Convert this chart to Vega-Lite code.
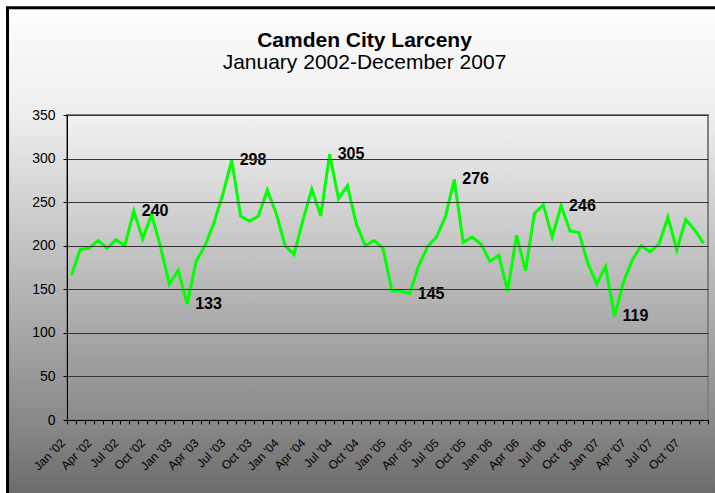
{
  "$schema": "https://vega.github.io/schema/vega-lite/v6.json",
  "width": 641,
  "height": 305,
  "autosize": {"type": "none"},
  "padding": {"left": 67, "top": 115, "right": 7, "bottom": 73},
  "background": "white",
  "title": {
    "text": "Camden City Larceny",
    "subtitle": "January 2002-December 2007",
    "font": "Liberation Sans",
    "subtitleFont": "Liberation Sans",
    "fontSize": 21,
    "fontWeight": "bold",
    "subtitleFontSize": 21,
    "subtitleFontWeight": "normal",
    "color": "black",
    "subtitleColor": "black",
    "anchor": "middle",
    "frame": "group",
    "dx": -23,
    "offset": -67,
    "subtitlePadding": 1
  },
  "config": {
    "view": {"stroke": null},
    "font": "Liberation Sans",
    "axisX": {
      "title": null,
      "grid": false,
      "labelAngle": -45,
      "labelAlign": "right",
      "labelBaseline": "top",
      "labelOffset": -8,
      "labelPadding": 13,
      "labelFontSize": 12,
      "labelFont": "Liberation Sans",
      "labelColor": "black",
      "labelOverlap": false,
      "labelFlush": false,
      "labelBound": false,
      "tickSize": 4,
      "tickColor": "black",
      "domainColor": "black",
      "domainWidth": 1
    },
    "axisY": {
      "title": null,
      "grid": true,
      "gridColor": "#333333",
      "gridWidth": 1,
      "tickSize": 4,
      "tickColor": "black",
      "domainColor": "black",
      "labelPadding": 8,
      "labelFontSize": 14,
      "labelFont": "Liberation Sans",
      "labelColor": "black"
    }
  },
  "data": {
    "values": [
      {"n": 0, "month": "Jan 2002", "larceny": 166},
      {"n": 1, "month": "Feb 2002", "larceny": 196},
      {"n": 2, "month": "Mar 2002", "larceny": 197},
      {"n": 3, "month": "Apr 2002", "larceny": 206},
      {"n": 4, "month": "May 2002", "larceny": 197},
      {"n": 5, "month": "Jun 2002", "larceny": 207},
      {"n": 6, "month": "Jul 2002", "larceny": 200},
      {"n": 7, "month": "Aug 2002", "larceny": 240},
      {"n": 8, "month": "Sep 2002", "larceny": 208},
      {"n": 9, "month": "Oct 2002", "larceny": 236},
      {"n": 10, "month": "Nov 2002", "larceny": 199},
      {"n": 11, "month": "Dec 2002", "larceny": 156},
      {"n": 12, "month": "Jan 2003", "larceny": 172},
      {"n": 13, "month": "Feb 2003", "larceny": 133},
      {"n": 14, "month": "Mar 2003", "larceny": 182},
      {"n": 15, "month": "Apr 2003", "larceny": 200},
      {"n": 16, "month": "May 2003", "larceny": 226},
      {"n": 17, "month": "Jun 2003", "larceny": 259},
      {"n": 18, "month": "Jul 2003", "larceny": 298},
      {"n": 19, "month": "Aug 2003", "larceny": 234},
      {"n": 20, "month": "Sep 2003", "larceny": 228},
      {"n": 21, "month": "Oct 2003", "larceny": 234},
      {"n": 22, "month": "Nov 2003", "larceny": 264},
      {"n": 23, "month": "Dec 2003", "larceny": 237},
      {"n": 24, "month": "Jan 2004", "larceny": 200},
      {"n": 25, "month": "Feb 2004", "larceny": 190},
      {"n": 26, "month": "Mar 2004", "larceny": 229},
      {"n": 27, "month": "Apr 2004", "larceny": 265},
      {"n": 28, "month": "May 2004", "larceny": 234},
      {"n": 29, "month": "Jun 2004", "larceny": 305},
      {"n": 30, "month": "Jul 2004", "larceny": 254},
      {"n": 31, "month": "Aug 2004", "larceny": 269},
      {"n": 32, "month": "Sep 2004", "larceny": 225},
      {"n": 33, "month": "Oct 2004", "larceny": 200},
      {"n": 34, "month": "Nov 2004", "larceny": 206},
      {"n": 35, "month": "Dec 2004", "larceny": 197},
      {"n": 36, "month": "Jan 2005", "larceny": 148},
      {"n": 37, "month": "Feb 2005", "larceny": 148},
      {"n": 38, "month": "Mar 2005", "larceny": 145},
      {"n": 39, "month": "Apr 2005", "larceny": 177},
      {"n": 40, "month": "May 2005", "larceny": 199},
      {"n": 41, "month": "Jun 2005", "larceny": 210},
      {"n": 42, "month": "Jul 2005", "larceny": 233},
      {"n": 43, "month": "Aug 2005", "larceny": 276},
      {"n": 44, "month": "Sep 2005", "larceny": 204},
      {"n": 45, "month": "Oct 2005", "larceny": 210},
      {"n": 46, "month": "Nov 2005", "larceny": 202},
      {"n": 47, "month": "Dec 2005", "larceny": 182},
      {"n": 48, "month": "Jan 2006", "larceny": 189},
      {"n": 49, "month": "Feb 2006", "larceny": 148},
      {"n": 50, "month": "Mar 2006", "larceny": 212},
      {"n": 51, "month": "Apr 2006", "larceny": 171},
      {"n": 52, "month": "May 2006", "larceny": 237},
      {"n": 53, "month": "Jun 2006", "larceny": 247},
      {"n": 54, "month": "Jul 2006", "larceny": 210},
      {"n": 55, "month": "Aug 2006", "larceny": 246},
      {"n": 56, "month": "Sep 2006", "larceny": 217},
      {"n": 57, "month": "Oct 2006", "larceny": 215},
      {"n": 58, "month": "Nov 2006", "larceny": 180},
      {"n": 59, "month": "Dec 2006", "larceny": 156},
      {"n": 60, "month": "Jan 2007", "larceny": 176},
      {"n": 61, "month": "Feb 2007", "larceny": 119},
      {"n": 62, "month": "Mar 2007", "larceny": 158},
      {"n": 63, "month": "Apr 2007", "larceny": 184},
      {"n": 64, "month": "May 2007", "larceny": 200},
      {"n": 65, "month": "Jun 2007", "larceny": 193},
      {"n": 66, "month": "Jul 2007", "larceny": 202},
      {"n": 67, "month": "Aug 2007", "larceny": 233},
      {"n": 68, "month": "Sep 2007", "larceny": 195},
      {"n": 69, "month": "Oct 2007", "larceny": 230},
      {"n": 70, "month": "Nov 2007", "larceny": 218},
      {"n": 71, "month": "Dec 2007", "larceny": 203}
    ]
  },
  "layer": [
    {
      "data": {"values": [{}]},
      "mark": {
        "type": "rect",
        "fill": {
          "gradient": "linear", "x1": 0, "y1": 0, "x2": 0, "y2": 1,
          "stops": [
            {"offset": 0, "color": "#fdfdfd"},
            {"offset": 0.22, "color": "#eeeeee"},
            {"offset": 0.85, "color": "#888888"},
            {"offset": 1, "color": "#6a6a6a"}
          ]
        },
        "stroke": "black",
        "strokeWidth": 3
      },
      "encoding": {
        "x": {
          "datum": -7.18,
          "type": "quantitative",
          "scale": {"domain": [-0.5, 71.5], "nice": false, "zero": false},
          "axis": {
            "values": [-0.5, 0.5, 1.5, 2.5, 3.5, 4.5, 5.5, 6.5, 7.5, 8.5, 9.5, 10.5, 11.5, 12.5, 13.5, 14.5, 15.5, 16.5, 17.5, 18.5, 19.5, 20.5, 21.5, 22.5, 23.5, 24.5, 25.5, 26.5, 27.5, 28.5, 29.5, 30.5, 31.5, 32.5, 33.5, 34.5, 35.5, 36.5, 37.5, 38.5, 39.5, 40.5, 41.5, 42.5, 43.5, 44.5, 45.5, 46.5, 47.5, 48.5, 49.5, 50.5, 51.5, 52.5, 53.5, 54.5, 55.5, 56.5, 57.5, 58.5, 59.5, 60.5, 61.5, 62.5, 63.5, 64.5, 65.5, 66.5, 67.5, 68.5, 69.5, 70.5, 71.5],
            "tickCount": 200,
            "labelExpr": "((datum.value + 0.5) % 3 == 0 && datum.value < 71) ? (['Jan','Feb','Mar','Apr','May','Jun','Jul','Aug','Sep','Oct','Nov','Dec'][(datum.value + 0.5) % 12] + \" '0\" + (2 + floor((datum.value + 0.5) / 12))) : ''",
            "labelOverlap": false,
            "zindex": 1
          }
        },
        "x2": {"datum": 73},
        "y": {
          "datum": 473,
          "type": "quantitative",
          "scale": {"domain": [0, 350], "nice": false},
          "axis": {"values": [0, 50, 100, 150, 200, 250, 300, 350], "tickCount": 20, "zindex": 1}
        },
        "y2": {"datum": -90}
      }
    },
    {
      "data": {"values": [{}]},
      "mark": {
        "type": "rect",
        "fill": {
          "gradient": "linear", "x1": 0, "y1": 0, "x2": 0, "y2": 1,
          "stops": [
            {"offset": 0, "color": "#f2f2f2"},
            {"offset": 1, "color": "#8a8a8a"}
          ]
        },
        "stroke": "#808080",
        "strokeWidth": 2
      },
      "encoding": {
        "x": {"datum": -0.5, "type": "quantitative"},
        "x2": {"datum": 71.5},
        "y": {"datum": 350, "type": "quantitative"},
        "y2": {"datum": 0}
      }
    },
    {
      "mark": {"type": "line", "color": "#00ff00", "strokeWidth": 3},
      "encoding": {
        "x": {"field": "n", "type": "quantitative"},
        "y": {"field": "larceny", "type": "quantitative"}
      }
    },
    {
      "transform": [{"filter": {"field": "n", "oneOf": [7, 13, 18, 29, 38, 43, 55, 61]}}],
      "mark": {"type": "text", "align": "left", "baseline": "middle", "dx": 8, "fontSize": 16, "fontWeight": "bold", "color": "black"},
      "encoding": {
        "x": {"field": "n", "type": "quantitative"},
        "y": {"field": "larceny", "type": "quantitative"},
        "text": {"field": "larceny"}
      }
    }
  ]
}
